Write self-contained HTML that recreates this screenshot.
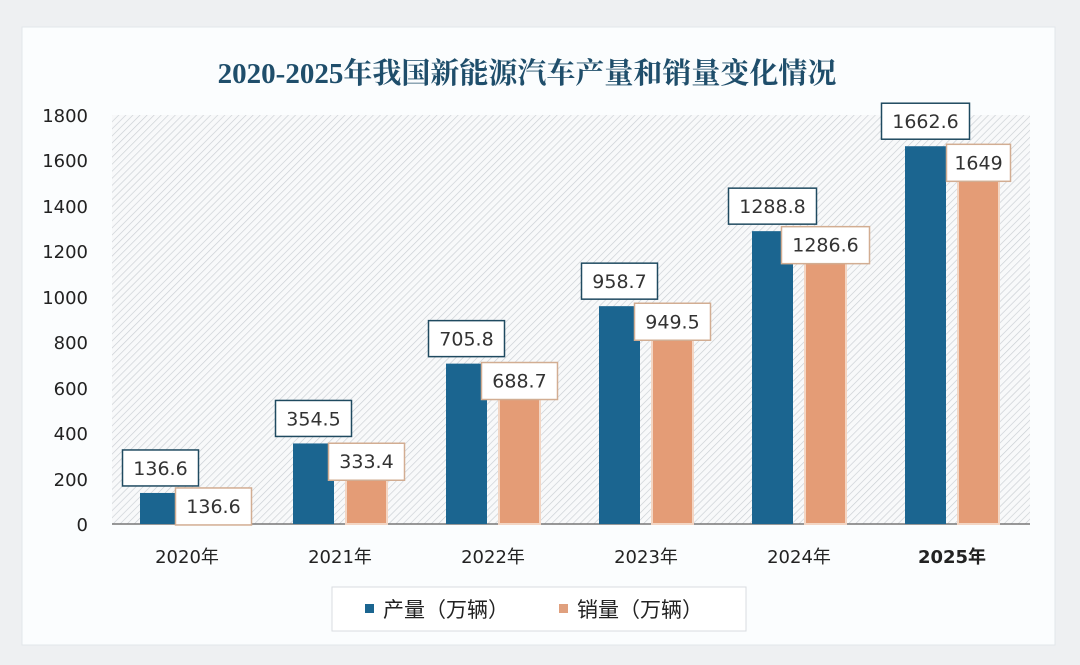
<!DOCTYPE html>
<html><head><meta charset="utf-8"><style>
body{margin:0;width:1080px;height:665px;background:#eef0f2;overflow:hidden}
</style></head><body>
<svg width="1080" height="665" xmlns="http://www.w3.org/2000/svg" style="position:absolute;left:0;top:0">
<defs>
<pattern id="h" width="5" height="5" patternUnits="userSpaceOnUse" patternTransform="rotate(45)">
<rect width="5" height="5" fill="#f8f9fa"/><line x1="0" y1="0" x2="0" y2="5" stroke="#c9ced3" stroke-width="1.3"/>
</pattern>
</defs>
<rect x="22" y="27" width="1033" height="618" fill="#fbfdfe" stroke="#e2e6ea"/>
<text x="527" y="83" text-anchor="middle" font-family="Liberation Serif, Noto Serif CJK SC, serif" font-weight="bold" font-size="29" fill="#1f4e6b">2020-2025年我国新能源汽车产量和销量变化情况</text>
<rect x="112" y="115" width="918" height="409" fill="url(#h)"/>
<line x1="112" y1="524" x2="1030" y2="524" stroke="#777" stroke-width="1.5"/>
<g font-family="DejaVu Sans, sans-serif" font-size="18" fill="#222" text-anchor="end">
<text x="88" y="531">0</text><text x="88" y="486">200</text><text x="88" y="440">400</text><text x="88" y="395">600</text><text x="88" y="349">800</text><text x="88" y="304">1000</text><text x="88" y="258">1200</text><text x="88" y="213">1400</text><text x="88" y="167">1600</text><text x="88" y="122">1800</text>
</g>
<g font-family="DejaVu Sans, Noto Sans CJK SC, sans-serif" font-size="18" fill="#222" text-anchor="middle">
<text x="187" y="563">2020年</text><text x="340" y="563">2021年</text><text x="493" y="563">2022年</text><text x="646" y="563">2023年</text><text x="799" y="563">2024年</text><text x="952" y="563" font-weight="bold">2025年</text>
</g>
<g id="bars"></g>
<rect x="332" y="587" width="414" height="44" fill="#fff" stroke="#d8dce0"/>
<rect x="365" y="604" width="9" height="9" fill="#1b6590"/>
<rect x="559" y="604" width="9" height="9" fill="#e0a07e"/>
<g font-family="Liberation Sans, Noto Sans CJK SC, sans-serif" font-size="21" fill="#222">
<text x="383" y="617">产量（万辆）</text><text x="577" y="617">销量（万辆）</text>
</g>
</svg>
<script>
var d=[[136.6,136.6],[354.5,333.4],[705.8,688.7],[958.7,949.5],[1288.8,1286.6],[1662.6,1649]];
var g=document.getElementById('bars'),s='';
function y(v){return 524-v*409/1800;}
d.forEach(function(p,i){
 var c=187+153*i,px=c-47,sx=c+6,w=41;
 var pt=y(p[0]),st=y(p[1]);
 s+='<rect x="'+px+'" y="'+pt+'" width="'+w+'" height="'+(524-pt)+'" fill="#1b6590"/>';
 s+='<rect x="'+sx+'" y="'+st+'" width="'+w+'" height="'+(524-st)+'" fill="#e49c76" stroke="#f3d6c4" stroke-width="2"/>';
 var t1=String(p[0]),t2=String(p[1]);
 var w1=t1.length*12+16,w2=t2.length*12+16;
 var pc=px+w/2,sc=sx+w/2;
 s+='<rect x="'+(pc-w1/2)+'" y="'+(pt-43)+'" width="'+w1+'" height="36" fill="#fff" stroke="#1f4a60" stroke-width="1.5"/>';
 s+='<text x="'+pc+'" y="'+(pt-18)+'" text-anchor="middle" font-family="DejaVu Sans, sans-serif" font-size="19" fill="#333">'+t1+'</text>';
 s+='<rect x="'+(sc-w2/2)+'" y="'+(st-5)+'" width="'+w2+'" height="37" fill="#fff" stroke="#d2ad92" stroke-width="1.5"/>';
 s+='<text x="'+sc+'" y="'+(st+20)+'" text-anchor="middle" font-family="DejaVu Sans, sans-serif" font-size="19" fill="#333">'+t2+'</text>';
});
g.innerHTML=s;
</script>
</body></html>
